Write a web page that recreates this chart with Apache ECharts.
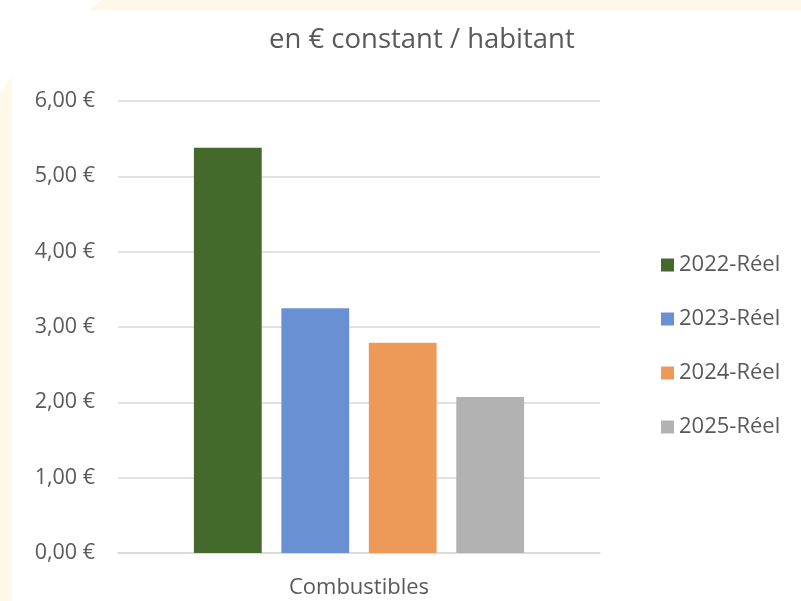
<!DOCTYPE html>
<html><head><meta charset="utf-8">
<script src="https://cdn.jsdelivr.net/npm/echarts@6/dist/echarts.min.js"></script>
<style>html,body{margin:0;padding:0;background:#fff}#c{width:801px;height:601px}</style>
</head><body><div id="c"></div>
<script>
var categories = ['Combustibles'];
var seriesNames = ['2022-Réel', '2023-Réel', '2024-Réel', '2025-Réel'];
var values2022 = [5.38];
var values2023 = [3.25];
var values2024 = [2.79];
var values2025 = [2.07];
var colors = ['#436a2b', '#6990d2', '#ed9a59', '#b2b2b2'];
var yTicks = [0, 1, 2, 3, 4, 5, 6];

var allValues = [values2022, values2023, values2024, values2025];
var font = '"Open Sans", "Liberation Sans", sans-serif';
var chart = echarts.init(document.getElementById('c'), null, {renderer: 'canvas'});
var series = seriesNames.map(function (n, i) {
  return {
    name: n, type: 'bar', data: allValues[i],
    itemStyle: {color: colors[i]},
    barGap: '29%', barCategoryGap: '31.5%'
  };
});
chart.setOption({
  animation: false,
  backgroundColor: '#ffffff',
  graphic: [
    {type: 'polygon', shape: {points: [[88, 10], [102, 0], [801, 0], [801, 10]]}, style: {fill: '#fef8e9'}, z: -1},
    {type: 'polygon', shape: {points: [[0, 93], [12, 76], [12, 601], [0, 601]]}, style: {fill: '#fef8e9'}, z: -1}
  ],
  title: {
    text: 'en € constant / habitant', left: 264, top: 21,
    textStyle: {fontFamily: font, fontSize: 27.5, fontWeight: 'normal', color: '#595959'}
  },
  legend: {
    orient: 'vertical', left: 656, top: 249, itemGap: 32,
    itemWidth: 13, itemHeight: 13, icon: 'rect',
    textStyle: {fontFamily: font, fontSize: 22, color: '#595959', padding: [0, 0, 0, 0]}
  },
  grid: {left: 118, right: 201, top: 101, bottom: 48},
  xAxis: {
    type: 'category', data: categories,
    axisLine: {lineStyle: {color: '#d9d9d9', width: 1.5}},
    axisTick: {show: false},
    axisLabel: {fontFamily: font, fontSize: 22, color: '#595959', margin: 24}
  },
  yAxis: {
    type: 'value', min: yTicks[0], max: yTicks[yTicks.length - 1], interval: 1,
    axisLine: {show: false}, axisTick: {show: false},
    splitLine: {lineStyle: {color: '#d9d9d9', width: 1.5}},
    axisLabel: {
      fontFamily: font, fontSize: 21.5, color: '#595959', margin: 23,
      formatter: function (v) { return v.toFixed(2).replace('.', ',') + ' €'; }
    }
  },
  series: series
});
</script></body></html>
